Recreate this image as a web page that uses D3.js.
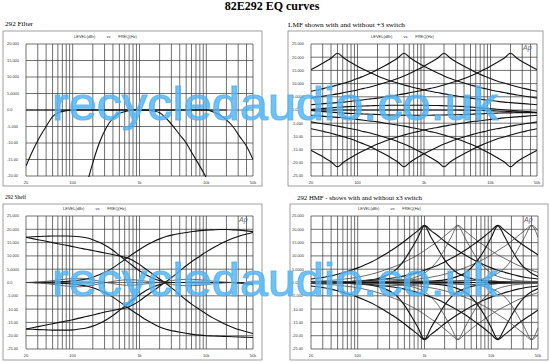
<!DOCTYPE html>
<html>
<head>
<meta charset="utf-8">
<script src="https://cdn.jsdelivr.net/npm/d3@7"></script>
<style>
body { margin: 0; background: #fff; }
svg { display: block; }
</style>
</head>
<body>
<script>
var width = 550, height = 362;

// third-octave measurement points (Hz) shared by every curve
var freqs = [20,25,31.5,40,50,63,80,100,125,160,200,250,315,400,500,630,800,1000,1250,1600,
  2000,2500,3150,4000,5000,6300,8000,10000,12500,16000,20000,25000,31500,40000,50000];

// vertical grid lines and x tick labels
var gridFreqs = [20,30,40,50,60,70,80,90,100,200,300,400,500,600,700,800,900,1000,
  2000,3000,4000,5000,6000,7000,8000,9000,10000,20000,30000,40000,50000];
var xTicks = [20, 100, 1000, 10000, 50000];
var xTickNames = ["20", "100", "1k", "10k", "50k"];

// y tick labels
var dbTicks20 = [20, 15, 10, 5, 0, -5, -10, -15, -20];
var dbTicks25 = [25, 20, 15, 10, 5, 0, -5, -10, -15, -20, -25];
var dbNames = {"25":"25.000","20":"20.000","15":"15.000","10":"10.000","5":"5.0000","0":"0.0",
  "-5":"-5.000","-10":"-10.00","-15":"-15.00","-20":"-20.00","-25":"-25.00"};

// 292 Filter (dB at each freq, null = off the chart)
var filterFlat = [0,0,0,0,0,0,0,0,0,0,0,0,0,0,0,0,0,0,0,0,0,0,0,0,0,0,0,0,0,0,0,null,null,null,null];
var filterWide = [-17,-12.5,-8.5,-5,-2,-0.7,-0.2,0,0,0,0,0,0,0,0,0,0,0,0,0,0,0,0,0,0,0,0,0,-0.5,-1.5,-3,-5,-8,-11,-15];
var filterNarrow = [null,null,null,null,null,null,null,null,null,-23,-16,-10,-5.5,-2.5,-1,-0.4,0,0,0,-0.3,
  -0.8,-2.5,-4.8,-7.5,-10,-13.5,-17,-20.5,-24,null,null,null,null,null,null];

// LMF peaks and dips
var lmfPeak50 = [15.3,16.6,18,19.6,21.5,19.6,18,16.6,15.3,14,12.9,11.9,11,10.2,9.5,8.8,8.2,7.6,7.1,6.6,6.1,5.7,5.3,4.9,4.5,4.2,3.9,3.6,3.3,3,2.8,2.6,2.4,2.2,2];
var lmfPeak500 = [7.1,7.6,8.2,8.8,9.5,10.2,11,11.9,12.9,14,15.3,16.6,18,19.6,21.5,19.6,18,16.6,15.3,14,12.9,11.9,11,10.2,9.5,8.8,8.2,7.6,7.1,6.6,6.1,5.7,5.3,4.9,4.5];
var lmfPeak2k = [4.5,4.9,5.3,5.7,6.1,6.6,7.1,7.6,8.2,8.8,9.5,10.2,11,11.9,12.9,14,15.3,16.6,18,19.6,21.5,19.6,18,16.6,15.3,14,12.9,11.9,11,10.2,9.5,8.8,8.2,7.6,7.1];
var lmfPeak20k = [2,2.2,2.4,2.6,2.8,3,3.3,3.6,3.9,4.2,4.5,4.9,5.3,5.7,6.1,6.6,7.1,7.6,8.2,8.8,9.5,10.2,11,11.9,12.9,14,15.3,16.6,18,19.6,21.5,19.6,18,16.6,15.3];
var lmfDip50 = [-15.3,-16.6,-18,-19.6,-21.5,-19.6,-18,-16.6,-15.3,-14,-12.9,-11.9,-11,-10.2,-9.5,-8.8,-8.2,-7.6,-7.1,-6.6,-6.1,-5.7,-5.3,-4.9,-4.5,-4.2,-3.9,-3.6,-3.3,-3,-2.8,-2.6,-2.4,-2.2,-2];
var lmfDip500 = [-7.1,-7.6,-8.2,-8.8,-9.5,-10.2,-11,-11.9,-12.9,-14,-15.3,-16.6,-18,-19.6,-21.5,-19.6,-18,-16.6,-15.3,-14,-12.9,-11.9,-11,-10.2,-9.5,-8.8,-8.2,-7.6,-7.1,-6.6,-6.1,-5.7,-5.3,-4.9,-4.5];
var lmfDip2k = [-4.5,-4.9,-5.3,-5.7,-6.1,-6.6,-7.1,-7.6,-8.2,-8.8,-9.5,-10.2,-11,-11.9,-12.9,-14,-15.3,-16.6,-18,-19.6,-21.5,-19.6,-18,-16.6,-15.3,-14,-12.9,-11.9,-11,-10.2,-9.5,-8.8,-8.2,-7.6,-7.1];
var lmfDip20k = [-2,-2.2,-2.4,-2.6,-2.8,-3,-3.3,-3.6,-3.9,-4.2,-4.5,-4.9,-5.3,-5.7,-6.1,-6.6,-7.1,-7.6,-8.2,-8.8,-9.5,-10.2,-11,-11.9,-12.9,-14,-15.3,-16.6,-18,-19.6,-21.5,-19.6,-18,-16.6,-15.3];
var lmfFlat = [0,0,0,0,0,0,0,0,0,0,0,0,0,0,0,0,0,0,0,0,0,0,0,-0.1,-0.1,-0.2,-0.2,-0.3,-0.4,-0.5,-0.6,-0.7,-0.8,-0.9,-1];
var lmfNearUp = [0.2,0.4,0.6,0.8,1,1.2,1.3,1.4,1.5,1.6,1.7,1.7,1.8,1.8,1.8,1.8,1.8,1.8,1.7,1.7,1.6,1.5,1.4,1.3,1.1,0.9,0.7,0.5,0.3,0.1,-0.1,-0.3,-0.5,-0.7,-0.9];
var lmfNearDown = [-0.2,-0.4,-0.6,-0.8,-1,-1.2,-1.3,-1.4,-1.5,-1.6,-1.7,-1.8,-1.9,-1.9,-2,-2,-2,-2,-2,-1.9,-1.9,-1.8,-1.8,-1.7,-1.6,-1.5,-1.4,-1.3,-1.2,-1.1,-1.1,-1,-1,-1,-1];

// 292 Shelf
var shelfLowBoost = [17,17.2,17.3,17.4,17.5,17.5,17.5,17.4,17.2,16.8,16.1,15.1,13.8,12.1,10.2,8.2,6.2,4.4,2.9,1.6,0.7,0.2,0,0,0,0,0,0,0,0,0,0,0,-0.3,-0.6];
var shelfLowCut = [-17.5,-17.6,-17.7,-17.8,-17.9,-17.9,-17.9,-17.8,-17.5,-17.1,-16.4,-15.4,-14.1,-12.4,-10.5,-8.5,-6.4,-4.6,-3,-1.7,-0.8,-0.2,0,0,0,0,0,0,0,0,0,0,-0.2,-0.5,-0.8];
var shelfTiltDown = [17,16.5,16,15.5,15,14.5,14,13.5,13,12.5,12,11.5,11,10.5,10,9.4,8.3,6.8,5,3.1,1.3,-0.4,-2.4,-4.6,-6.6,-8.5,-10.2,-11.8,-13.3,-14.7,-15.9,-16.9,-17.8,-18.5,-19.2];
var shelfTiltUp = [-17.5,-17,-16.5,-16,-15.5,-15,-14.5,-14,-13.4,-12.8,-12.2,-11.6,-11,-10.5,-10,-9.5,-8.4,-6.9,-5.1,-3.2,-1.4,0.3,2.2,4.3,6.3,8.2,9.9,11.5,13,14.4,15.6,16.6,17.5,18.2,18.8];
var shelfHighBoost = [0,0,0.1,0.1,0.2,0.3,0.4,0.6,0.9,1.3,2,2.9,4,5.5,7.2,9,10.8,12.4,13.9,15.3,16.4,17.3,17.9,18.4,18.8,19.2,19.5,19.7,19.8,19.9,19.9,19.8,19.7,19.4,19.1];
var shelfHighCut = [0,0,-0.1,-0.1,-0.2,-0.3,-0.4,-0.6,-0.9,-1.3,-2,-2.9,-4,-5.5,-7.2,-9,-10.8,-12.4,-14,-15.5,-16.7,-17.6,-18.2,-18.7,-19.1,-19.5,-19.8,-20,-20.1,-20.2,-20.3,-20.4,-20.5,-20.6,-20.7];
var shelfSmallUp = [0,0.1,0.2,0.4,0.7,1,1.3,1.5,1.6,1.4,1,0.5,0,-0.4,-0.8,-1,-1,-0.8,-0.5,-0.2,0,0.4,0.8,1.1,1.2,1.2,1,0.8,0.5,0.3,0.1,0,-0.2,-0.4,-0.6];
var shelfSmallDown = [0,-0.1,-0.2,-0.4,-0.7,-1,-1.3,-1.5,-1.6,-1.4,-1,-0.5,0,0.4,0.8,1,1,0.8,0.5,0.2,0,-0.4,-0.8,-1.1,-1.2,-1.2,-1,-0.8,-0.5,-0.3,-0.1,0,-0.2,-0.4,-0.6];

// HMF broad peaks and dips
var hmfPeak1k = [1.3,1.6,2,2.5,3.1,3.8,4.6,5.5,6.5,7.7,9,10.4,12,13.7,15.5,17.5,19.5,21.5,19.5,17.5,15.5,13.7,12,10.4,9,7.7,6.5,5.5,4.6,3.8,3.1,2.5,2,1.6,1.3];
var hmfPeak3k = [0.4,0.5,0.6,0.8,1,1.3,1.6,2,2.5,3.1,3.8,4.6,5.5,6.5,7.7,9,10.4,12,13.7,15.5,17.5,19.5,21.5,19.5,17.5,15.5,13.7,12,10.4,9,7.7,6.5,5.5,4.6,3.8];
var hmfPeak12k = [0.1,0.2,0.2,0.2,0.3,0.3,0.4,0.5,0.6,0.8,1,1.3,1.6,2,2.5,3.1,3.8,4.6,5.5,6.5,7.7,9,10.4,12,13.7,15.5,17.5,19.5,21.5,19.5,17.5,15.5,13.7,12,10.4];
var hmfPeak40k = [0.1,0.1,0.1,0.1,0.1,0.1,0.2,0.2,0.2,0.3,0.3,0.4,0.5,0.6,0.8,1,1.3,1.6,2,2.5,3.1,3.8,4.6,5.5,6.5,7.7,9,10.4,12,13.7,15.5,17.5,19.5,21.5,19.5];
var hmfDip1k = [-1.3,-1.6,-2,-2.5,-3.1,-3.8,-4.6,-5.5,-6.5,-7.7,-9,-10.4,-12,-13.7,-15.5,-17.5,-19.5,-21.5,-19.5,-17.5,-15.5,-13.7,-12,-10.4,-9,-7.7,-6.5,-5.5,-4.6,-3.8,-3.1,-2.5,-2,-1.6,-1.3];
var hmfDip3k = [-0.4,-0.5,-0.6,-0.8,-1,-1.3,-1.6,-2,-2.5,-3.1,-3.8,-4.6,-5.5,-6.5,-7.7,-9,-10.4,-12,-13.7,-15.5,-17.5,-19.5,-21.5,-19.5,-17.5,-15.5,-13.7,-12,-10.4,-9,-7.7,-6.5,-5.5,-4.6,-3.8];
var hmfDip12k = [-0.1,-0.2,-0.2,-0.2,-0.3,-0.3,-0.4,-0.5,-0.6,-0.8,-1,-1.3,-1.6,-2,-2.5,-3.1,-3.8,-4.6,-5.5,-6.5,-7.7,-9,-10.4,-12,-13.7,-15.5,-17.5,-19.5,-21.5,-19.5,-17.5,-15.5,-13.7,-12,-10.4];
var hmfDip40k = [-0.1,-0.1,-0.1,-0.1,-0.1,-0.1,-0.2,-0.2,-0.2,-0.3,-0.3,-0.4,-0.5,-0.6,-0.8,-1,-1.3,-1.6,-2,-2.5,-3.1,-3.8,-4.6,-5.5,-6.5,-7.7,-9,-10.4,-12,-13.7,-15.5,-17.5,-19.5,-21.5,-19.5];

// HMF narrow peaks and dips
var hmfNarrowPeak1k = [0.1,0.1,0.2,0.2,0.2,0.3,0.4,0.5,0.7,1,1.5,2.3,3.5,5.5,8.5,12.5,17,21.3,17,12.5,8.5,5.5,3.5,2.3,1.5,1,0.7,0.5,0.4,0.3,0.2,0.2,0.2,0.1,0.1];
var hmfNarrowPeak3k = [0,0,0.1,0.1,0.1,0.1,0.1,0.2,0.2,0.2,0.3,0.4,0.5,0.7,1,1.5,2.3,3.5,5.5,8.5,12.5,17,21.3,17,12.5,8.5,5.5,3.5,2.3,1.5,1,0.7,0.5,0.4,0.3];
var hmfNarrowPeak12k = [0,0,0,0,0,0,0,0.1,0.1,0.1,0.1,0.1,0.1,0.2,0.2,0.2,0.3,0.4,0.5,0.7,1,1.5,2.3,3.5,5.5,8.5,12.5,17,21.3,17,12.5,8.5,5.5,3.5,2.3];
var hmfNarrowPeak40k = [0,0,0,0,0,0,0,0,0,0,0,0,0.1,0.1,0.1,0.1,0.1,0.1,0.2,0.2,0.2,0.3,0.4,0.5,0.7,1,1.5,2.3,3.5,5.5,8.5,12.5,17,21.3,17];
var hmfNarrowDip1k = [-0.1,-0.1,-0.2,-0.2,-0.2,-0.3,-0.4,-0.5,-0.7,-1,-1.5,-2.3,-3.5,-5.5,-8.5,-12.5,-17,-21.3,-17,-12.5,-8.5,-5.5,-3.5,-2.3,-1.5,-1,-0.7,-0.5,-0.4,-0.3,-0.2,-0.2,-0.2,-0.1,-0.1];
var hmfNarrowDip3k = [0,0,-0.1,-0.1,-0.1,-0.1,-0.1,-0.2,-0.2,-0.2,-0.3,-0.4,-0.5,-0.7,-1,-1.5,-2.3,-3.5,-5.5,-8.5,-12.5,-17,-21.3,-17,-12.5,-8.5,-5.5,-3.5,-2.3,-1.5,-1,-0.7,-0.5,-0.4,-0.3];
var hmfNarrowDip12k = [0,0,0,0,0,0,0,-0.1,-0.1,-0.1,-0.1,-0.1,-0.1,-0.2,-0.2,-0.2,-0.3,-0.4,-0.5,-0.7,-1,-1.5,-2.3,-3.5,-5.5,-8.5,-12.5,-17,-21.3,-17,-12.5,-8.5,-5.5,-3.5,-2.3];
var hmfNarrowDip40k = [0,0,0,0,0,0,0,0,0,0,0,0,-0.1,-0.1,-0.1,-0.1,-0.1,-0.1,-0.2,-0.2,-0.2,-0.3,-0.4,-0.5,-0.7,-1,-1.5,-2.3,-3.5,-5.5,-8.5,-12.5,-17,-21.3,-17];

var hmfFlat = [0,0,0,0,0,0,0,0,0,0,0,0,0,0,0,0,0,0,0,0,0,0,0,0,0,0,0,0,0,0,0,0,0,0,0];
var hmfNearUp = [0,0,0.1,0.1,0.2,0.3,0.4,0.6,0.8,1,1.1,1.2,1.2,1.1,1,0.8,0.6,0.5,0.4,0.4,0.5,0.6,0.7,0.8,0.8,0.7,0.6,0.5,0.4,0.3,0.2,0.1,0,0,0];
var hmfNearDown = [0,0,-0.1,-0.1,-0.2,-0.3,-0.4,-0.6,-0.8,-1,-1.1,-1.2,-1.2,-1.1,-1,-0.8,-0.6,-0.5,-0.4,-0.4,-0.5,-0.6,-0.7,-0.8,-0.8,-0.7,-0.6,-0.5,-0.4,-0.3,-0.2,-0.1,0,0,0];

var svg = d3.select("body").append("svg")
  .attr("width", width).attr("height", height);

svg.append("text")
  .attr("x", 272).attr("y", 10)
  .attr("text-anchor", "middle")
  .attr("font-family", "Liberation Serif, serif")
  .attr("font-weight", "bold")
  .attr("font-size", 12)
  .text("82E292 EQ curves");

// one panel: frame, grid, labels, curves
function drawPanel(p) {
  var g = svg.append("g");

  g.append("text")
    .attr("x", p.tx).attr("y", p.ty)
    .attr("font-family", "Liberation Serif, serif")
    .attr("font-size", 7)
    .attr("textLength", p.tw).attr("lengthAdjust", "spacingAndGlyphs")
    .text(p.title);

  g.append("rect")
    .attr("x", p.frame[0]).attr("y", p.frame[1])
    .attr("width", p.frame[2] - p.frame[0]).attr("height", p.frame[3] - p.frame[1])
    .attr("fill", "none").attr("stroke", "#777").attr("stroke-width", 0.7);

  var x = d3.scaleLog().domain([20, 50000]).range([p.x0, p.x1]);
  var y = d3.scaleLinear().domain([-p.dbMax, p.dbMax]).range([p.y1, p.y0]);

  g.selectAll(".vgrid").data(gridFreqs).enter().append("line")
    .attr("x1", function (d) { return x(d); }).attr("x2", function (d) { return x(d); })
    .attr("y1", p.y0).attr("y2", p.y1)
    .attr("stroke", "#333").attr("stroke-width", 0.7);

  g.selectAll(".hgrid").data(p.ticks).enter().append("line")
    .attr("x1", p.x0).attr("x2", p.x1)
    .attr("y1", function (d) { return y(d); }).attr("y2", function (d) { return y(d); })
    .attr("stroke", "#333").attr("stroke-width", 0.7);

  g.selectAll(".ylab").data(p.ticks).enter().append("text")
    .attr("x", p.x0 - 19).attr("y", function (d) { return y(d) + 1.4; })
    .attr("font-family", "Liberation Sans, Arial, sans-serif")
    .attr("font-size", 3.9).attr("fill", "#333")
    .text(function (d) { return dbNames[d]; });

  g.selectAll(".xlab").data(xTicks).enter().append("text")
    .attr("x", function (d) { return x(d); }).attr("y", p.y1 + 8)
    .attr("text-anchor", "middle")
    .attr("font-family", "Liberation Sans, Arial, sans-serif")
    .attr("font-size", 4).attr("fill", "#333")
    .text(function (d, i) { return xTickNames[i]; });

  g.append("text")
    .attr("x", p.x0 + p.headDx).attr("y", p.y0 - 6)
    .attr("font-family", "Liberation Sans, Arial, sans-serif")
    .attr("font-size", 4).attr("fill", "#333")
    .attr("xml:space", "preserve")
    .text("LEVEL(dBr)          vs       FREQ(Hz)");

  if (p.logo) {
    g.append("text")
      .attr("x", p.x1 - 14).attr("y", p.y0 + 6)
      .attr("font-family", "Liberation Sans, Arial, sans-serif")
      .attr("font-style", "italic")
      .attr("font-size", 7).attr("fill", "#666")
      .text("Ap");
  }

  var clipId = "clip-" + p.id;
  svg.append("clipPath").attr("id", clipId)
    .append("rect").attr("x", p.x0).attr("y", p.y0 - 1)
    .attr("width", p.x1 - p.x0).attr("height", p.y1 - p.y0 + 2);

  var line = d3.line()
    .defined(function (d) { return d[1] !== null; })
    .x(function (d) { return x(d[0]); })
    .y(function (d) { return y(d[1]); })
    .curve(d3.curveMonotoneX);

  g.append("g").attr("clip-path", "url(#" + clipId + ")")
    .selectAll("path").data(p.curves).enter().append("path")
    .attr("d", function (c) { return line(freqs.map(function (f, i) { return [f, c.v[i]]; })); })
    .attr("fill", "none")
    .attr("stroke", function (c) { return c.thin ? "#444" : "#111"; })
    .attr("stroke-width", function (c) { return c.thin ? 0.8 : 1.1; });
}

drawPanel({id: "filter", title: "292 Filter", tx: 5, ty: 26, tw: 28,
  frame: [3, 31, 262, 186], x0: 26, x1: 253, y0: 44, y1: 176, dbMax: 20, ticks: dbTicks20,
  headDx: 48, logo: false,
  curves: [{v: filterFlat}, {v: filterWide}, {v: filterNarrow}]});

drawPanel({id: "lmf", title: "LMF shown with and without +3 switch", tx: 288, ty: 27, tw: 117,
  frame: [288, 31, 543, 186], x0: 311, x1: 537, y0: 44, y1: 176, dbMax: 25, ticks: dbTicks25,
  headDx: 60, logo: true,
  curves: [{v: lmfPeak50}, {v: lmfPeak500}, {v: lmfPeak2k}, {v: lmfPeak20k},
    {v: lmfDip50}, {v: lmfDip500}, {v: lmfDip2k}, {v: lmfDip20k},
    {v: lmfFlat}, {v: lmfNearUp}, {v: lmfNearDown}]});

drawPanel({id: "shelf", title: "292 Shelf", tx: 5, ty: 199, tw: 21,
  frame: [3, 204, 262, 360], x0: 26, x1: 253, y0: 216, y1: 349, dbMax: 25, ticks: dbTicks25,
  headDx: 37, logo: true,
  curves: [{v: shelfLowBoost}, {v: shelfLowCut}, {v: shelfTiltDown}, {v: shelfTiltUp},
    {v: shelfHighBoost}, {v: shelfHighCut}, {v: shelfSmallUp, thin: true}, {v: shelfSmallDown, thin: true}]});

drawPanel({id: "hmf", title: "292 HMF  - shows with and without x3 switch", tx: 297, ty: 200, tw: 125,
  frame: [290, 204, 548, 360], x0: 311, x1: 538, y0: 216, y1: 349, dbMax: 25, ticks: dbTicks25,
  headDx: 47, logo: true,
  curves: [{v: hmfPeak1k}, {v: hmfPeak3k, thin: true}, {v: hmfPeak12k}, {v: hmfPeak40k, thin: true},
    {v: hmfDip1k}, {v: hmfDip3k, thin: true}, {v: hmfDip12k}, {v: hmfDip40k, thin: true},
    {v: hmfNarrowPeak1k}, {v: hmfNarrowPeak3k, thin: true}, {v: hmfNarrowPeak12k}, {v: hmfNarrowPeak40k, thin: true},
    {v: hmfNarrowDip1k}, {v: hmfNarrowDip3k, thin: true}, {v: hmfNarrowDip12k}, {v: hmfNarrowDip40k, thin: true},
    {v: hmfFlat}, {v: hmfNearUp, thin: true}, {v: hmfNearDown, thin: true}]});

// watermark over both rows
[120, 296].forEach(function (by) {
  svg.append("text")
    .attr("x", 52).attr("y", by)
    .attr("font-family", "Liberation Sans, Arial, sans-serif")
    .attr("font-size", 47)
    .attr("textLength", 446).attr("lengthAdjust", "spacingAndGlyphs")
    .attr("fill", "#4fb3f5").attr("fill-opacity", 0.8)
    .attr("stroke", "#4fb3f5").attr("stroke-opacity", 0.8).attr("stroke-width", 1.2)
    .text("recycledaudio.co.uk");
});
</script>
</body>
</html>
